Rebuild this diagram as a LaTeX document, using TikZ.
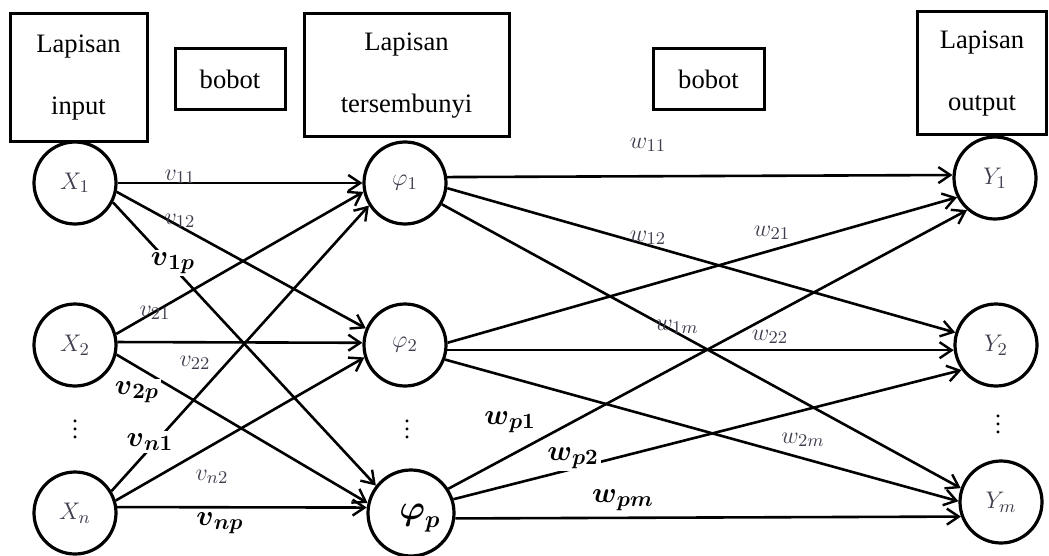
\documentclass[tikz,border=0pt]{standalone}
\usepackage{amsmath}
\usepackage{fontspec}
\setmainfont{Liberation Serif}
\usetikzlibrary{arrows.meta}

\definecolor{lblgray}{RGB}{62,62,78}

\begin{document}
\begin{tikzpicture}[x=0.5pt,y=-0.5pt,
  layerbox/.style={draw, line width=1.5pt, align=center, inner sep=0pt,
    font=\fontsize{13.3}{31}\selectfont},
  neuron/.style={circle, draw, line width=1.6pt, minimum size=41pt, inner sep=0pt,
    font=\fontsize{12.5}{14}\selectfont, text=lblgray},
  conn/.style={line width=1.3pt,
    -{Straight Barb[length=6pt,width=8pt,line width=1.2pt]}},
  wlbl/.style={font=\fontsize{13}{15}\selectfont, text=lblgray, inner sep=1pt},
  wbold/.style={font=\fontsize{15}{17}\selectfont, fill=white, inner sep=1pt},
  ell/.style={font=\fontsize{12}{14}\selectfont, inner sep=0pt}
]
\useasboundingbox (0,0) rectangle (1049,556);

% layer captions and weight captions
\node[layerbox, minimum width=68.5pt, minimum height=64pt] (capIn) at (78.5,78) {Lapisan\\input};
\node[layerbox, minimum width=55pt, minimum height=30.5pt] (capV) at (230,79.5) {bobot};
\node[layerbox, minimum width=102.5pt, minimum height=61.5pt] (capHid) at (406.5,75.5) {Lapisan\\tersembunyi};
\node[layerbox, minimum width=55.5pt, minimum height=30.5pt] (capW) at (708.5,79.5) {bobot};
\node[layerbox, minimum width=64.5pt, minimum height=61.5pt] (capOut) at (982,73.5) {Lapisan\\output};

% input layer
\node[neuron] (X1) at (75,183) {$X_1$};
\node[neuron] (X2) at (75,345) {$X_2$};
\node[neuron] (Xn) at (75,513) {$X_n$};
\node[ell] (dotsX) at (75,423) {$\vdots$};

% hidden layer
\node[neuron] (phi1) at (405,183) {$\varphi_1$};
\node[neuron] (phi2) at (405,345) {$\varphi_2$};
\node[neuron, minimum size=43pt] (phip) at (411,513) {};
\node[font=\fontsize{17}{19}\selectfont, inner sep=0pt] (phiplbl) at (420,518) {$\boldsymbol{\varphi}_{\boldsymbol{p}}$};
\node[ell] (dotsH) at (407,423) {$\vdots$};

% output layer
\node[neuron] (Y1) at (995,178) {$Y_1$};
\node[neuron] (Y2) at (996,345) {$Y_2$};
\node[neuron] (Ym) at (1001,502) {$Y_m$};
\node[ell] (dotsY) at (998,418) {$\vdots$};

% input -> hidden
\draw[conn] (X1.0)   -- (phi1.180);
\draw[conn] (X1.-12) -- (phi2.157);
\draw[conn] (X1.-27) -- (phip.142);
\draw[conn] (X2.15)  -- (phi1.-168);
\draw[conn] (X2.4)   -- (phi2.177);
\draw[conn] (X2.-13) -- (phip.167);
\draw[conn] (Xn.31)  -- (phi1.-148);
\draw[conn] (Xn.17)  -- (phi2.-163);
\draw[conn] (Xn.8)   -- (phip.173);

% hidden -> output
\draw[conn] (phi1.8)   -- (Y1.176);
\draw[conn] (phi1.-7)  -- (Y2.163);
\draw[conn] (phi1.-30) -- (Ym.161);
\draw[conn] (phi2.3)   -- (Y1.-153);
\draw[conn] (phi2.-7)  -- (Y2.-173);
\draw[conn] (phi2.-20) -- (Ym.179);
\draw[conn] (phip.33)  -- (Y1.-131);
\draw[conn] (phip.18)  -- (Y2.-144);
\draw[conn] (phip.-7)  -- (Ym.-160);

% weights v
\node[wlbl] (v11) at (180,177) {$v_{11}$};
\node[wlbl] (v12) at (180,221) {$v_{12}$};
\node[wbold] (v1p) at (173,263) {$\boldsymbol{v}_{\boldsymbol{1p}}$};
\node[wlbl] (v21) at (155,313) {$v_{21}$};
\node[wlbl] (v22) at (195,363) {$v_{22}$};
\node[wbold] (v2p) at (137,392) {$\boldsymbol{v}_{\boldsymbol{2p}}$};
\node[wbold] (vn1) at (150,442) {$\boldsymbol{v}_{\boldsymbol{n1}}$};
\node[wlbl] (vn2) at (212,477) {$v_{n2}$};
\node[wbold] (vnp) at (220,523) {$\boldsymbol{v}_{\boldsymbol{np}}$};

% weights w
\node[wlbl] (w11) at (648,145) {$w_{11}$};
\node[wlbl] (w12) at (648,238) {$w_{12}$};
\node[wlbl] (w21) at (772,233) {$w_{21}$};
\node[wlbl] (w1m) at (677,327) {$w_{1m}$};
\node[wlbl] (w22) at (770,337) {$w_{22}$};
\node[wlbl] (w2m) at (803,440) {$w_{2m}$};
\node[wbold] (wp1) at (510,422) {$\boldsymbol{w}_{\boldsymbol{p1}}$};
\node[wbold] (wp2) at (573,458) {$\boldsymbol{w}_{\boldsymbol{p2}}$};
\node[wbold] (wpm) at (623,500) {$\boldsymbol{w}_{\boldsymbol{pm}}$};
\end{tikzpicture}
\end{document}
